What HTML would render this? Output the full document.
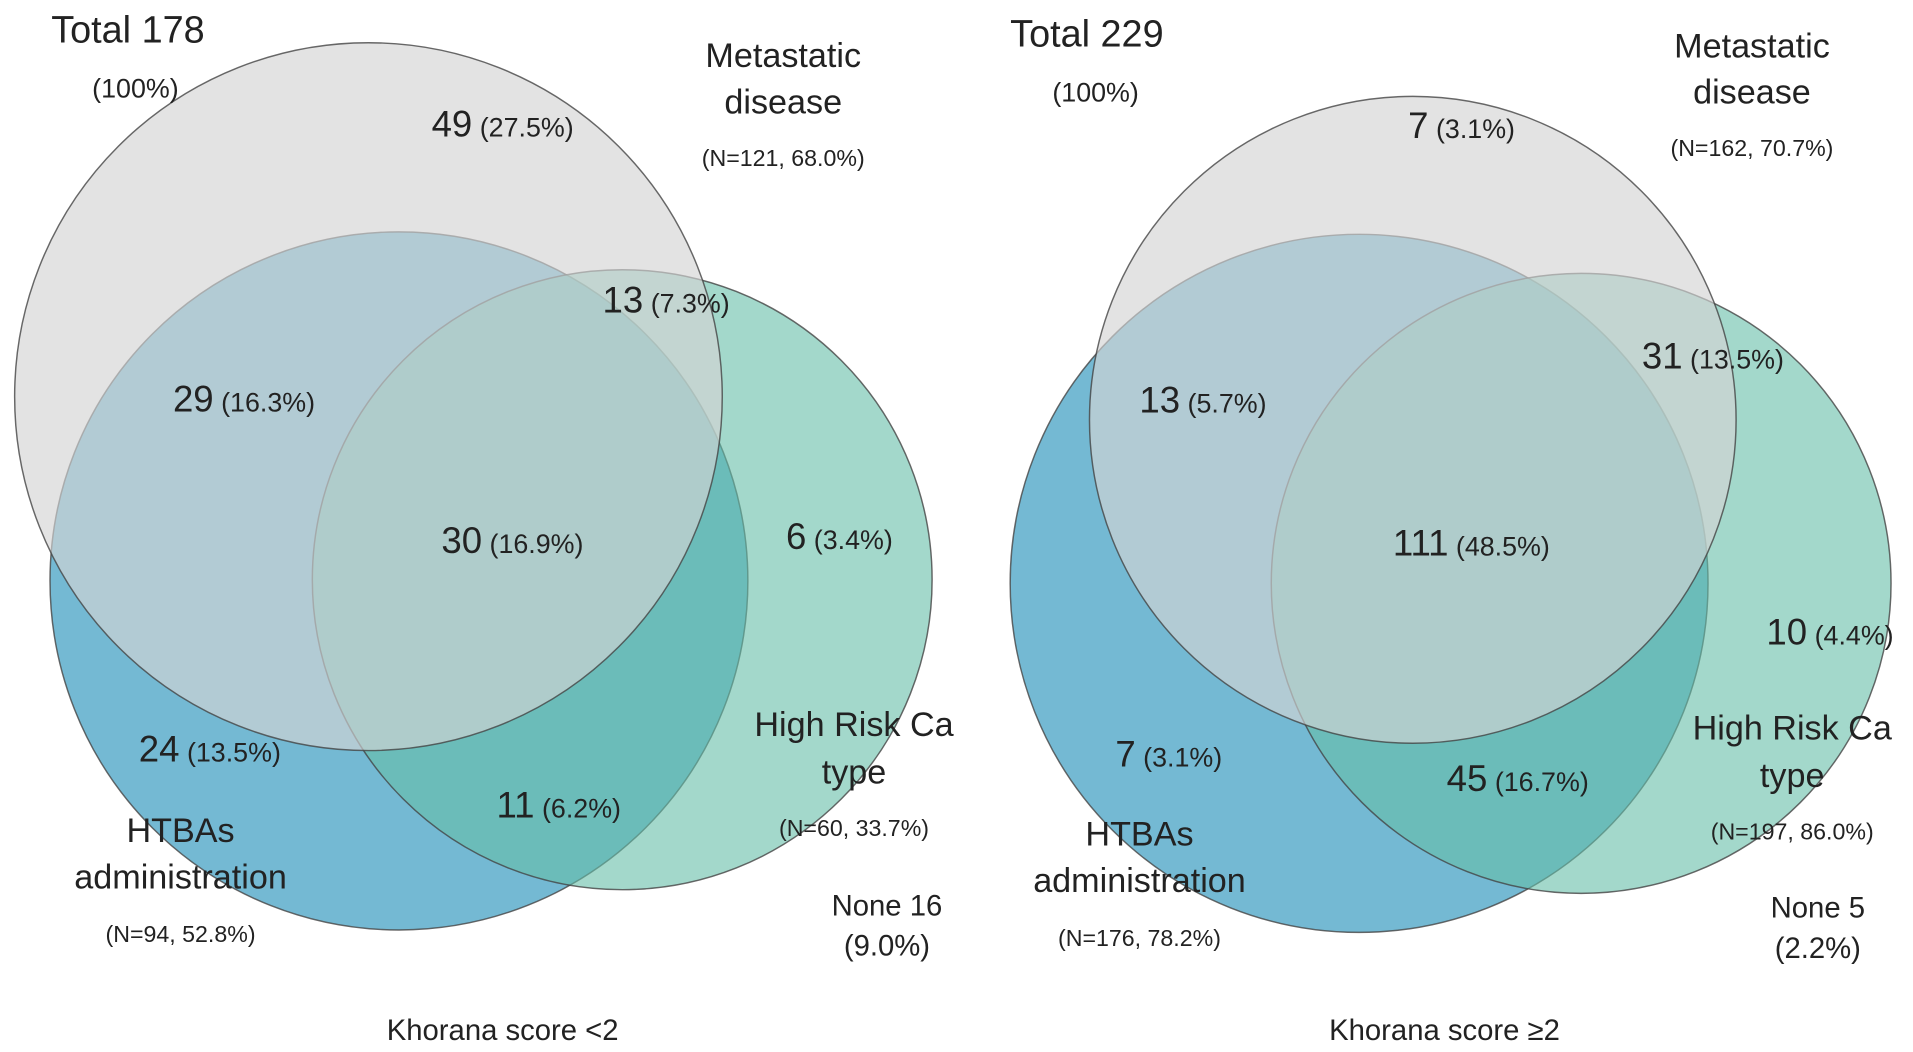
<!DOCTYPE html>
<html><head><meta charset="utf-8"><style>
html,body{margin:0;padding:0;background:#fff;}
svg{display:block;}
text{font-family:"Liberation Sans Narrow","Liberation Sans",sans-serif;fill:#222;}
</style></head><body>
<svg id="chart" width="1913" height="1052" viewBox="0 0 1568 862" preserveAspectRatio="none" xmlns="http://www.w3.org/2000/svg">
<g id="circles"></g><g id="labels"></g>
</svg>
<script>
// circle geometry (set sizes)
const setNames = ["htbas","high-risk","metastatic"];
const leftCircles = [[327,476,286],[510,475,254],[302,325,290]];
const rightCircles = [[1114,478,286],[1296,478,254],[1158,344,265]];
const fills = ["#74b9d3","#66bea8","#d4d4d4"];
const opac = [1,0.6,0.65];
// region counts
const regionNums = ["49","13","29","30","6","24","11","7","31","13","111","10","7","45"];
const regionPcts = ["(27.5%)","(7.3%)","(16.3%)","(16.9%)","(3.4%)","(13.5%)","(6.2%)","(3.1%)","(13.5%)","(5.7%)","(48.5%)","(4.4%)","(3.1%)","(16.7%)"];
const regionPos = [[412,112],[546,256],[200,337],[420,453],[688,450],[172,624],[458,670],[1198,113],[1404,302],[986,338],[1206,455],[1500,528],[958,628],[1244,648]];
const svg = document.getElementById('chart');
const NS="http://www.w3.org/2000/svg";
const cg=document.getElementById('circles'), lg=document.getElementById('labels');
[leftCircles,rightCircles].forEach((set,si)=>{
  set.forEach((c,i)=>{
    const e=document.createElementNS(NS,'circle');
    e.setAttribute('cx',c[0]);e.setAttribute('cy',c[1]);e.setAttribute('r',c[2]);
    e.setAttribute('fill',fills[i]);e.setAttribute('fill-opacity',opac[i]);
    e.setAttribute('stroke','#444');e.setAttribute('stroke-width','1.2');e.setAttribute('stroke-opacity','0.8');
    
    
    cg.appendChild(e);
  });
});
regionNums.forEach((n,i)=>{
  const t=document.createElementNS(NS,'text');
  t.setAttribute('x',regionPos[i][0]);t.setAttribute('y',regionPos[i][1]);
  t.setAttribute('text-anchor','middle');
  t.innerHTML='<tspan font-size="30">'+n+'</tspan><tspan font-size="22"> '+regionPcts[i]+'</tspan>';
  
  
  lg.appendChild(t);
});
function lab(x,y,s,txt,name,anchor){
  const t=document.createElementNS(NS,'text');
  t.setAttribute('x',x);t.setAttribute('y',y);t.setAttribute('font-size',s);
  t.setAttribute('text-anchor',anchor||'middle');t.textContent=txt;
  
  
  lg.appendChild(t);
}
lab(42,35,31,"Total 178","total-left","start");
lab(111,80,22,"(100%)","total-pct-left");
lab(642,55,28,"Metastatic","metastatic-label-left");
lab(642,93,28,"disease","metastatic-label-left-2");
lab(642,136,19,"(N=121, 68.0%)","metastatic-n-left");
lab(700,603,28,"High Risk Ca","highrisk-label-left");
lab(700,642,28,"type","highrisk-label-left-2");
lab(700,685,19,"(N=60, 33.7%)","highrisk-n-left");
lab(148,690,28,"HTBAs","htbas-label-left");
lab(148,728,28,"administration","htbas-label-left-2");
lab(148,772,19,"(N=94, 52.8%)","htbas-n-left");
lab(727,750,24,"None 16","none-left");
lab(727,783,24,"(9.0%)","none-pct-left");
lab(412,852,24,"Khorana score <2","title-left");
lab(828,38,31,"Total 229","total-right","start");
lab(898,83,22,"(100%)","total-pct-right");
lab(1436,47,28,"Metastatic","metastatic-label-right");
lab(1436,85,28,"disease","metastatic-label-right-2");
lab(1436,128,19,"(N=162, 70.7%)","metastatic-n-right");
lab(1469,606,28,"High Risk Ca","highrisk-label-right");
lab(1469,645,28,"type","highrisk-label-right-2");
lab(1469,688,19,"(N=197, 86.0%)","highrisk-n-right");
lab(934,693,28,"HTBAs","htbas-label-right");
lab(934,731,28,"administration","htbas-label-right-2");
lab(934,775,19,"(N=176, 78.2%)","htbas-n-right");
lab(1490,752,24,"None 5","none-right");
lab(1490,785,24,"(2.2%)","none-pct-right");
lab(1184,852,24,"Khorana score \u22652","title-right");
</script>
</body></html>
